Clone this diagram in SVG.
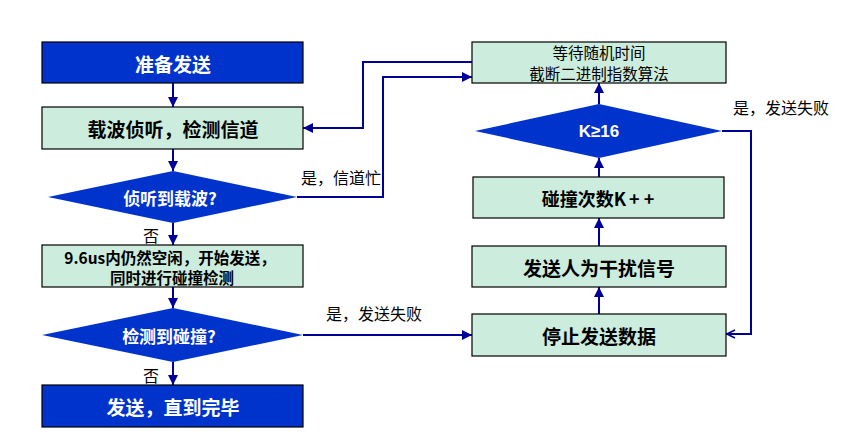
<svg xmlns="http://www.w3.org/2000/svg" width="855" height="444" viewBox="0 0 855 444">
<style>
text{font-family:"Noto Sans CJK SC","Noto Sans",sans-serif;dominant-baseline:central;text-anchor:middle}
.dark{fill:#0033CC;stroke:#000;stroke-width:1.2}
.light{fill:#CCECDD;stroke:#000;stroke-width:1.2}
.dia{fill:#0033CC;stroke:none}
.wt{fill:#fff;font-weight:bold}
.bt{fill:#000;font-weight:bold}
.nt{fill:#000}
.lbl{fill:#000;font-size:16px;text-anchor:start}
.ln{fill:none;stroke:#000099;stroke-width:2}
</style>
<defs>
<marker id="ah" viewBox="0 0 10 10" refX="10" refY="5" markerWidth="5" markerHeight="5" orient="auto" markerUnits="strokeWidth">
<path d="M0,0 L10,5 L0,10 z" fill="#000099"/>
</marker>
<marker id="oh" viewBox="0 0 10 10" refX="10" refY="5" markerWidth="5" markerHeight="5" orient="auto" markerUnits="strokeWidth">
<path d="M1,1 L9,5 L1,9" fill="none" stroke="#000099" stroke-width="1.6"/>
</marker>
</defs>
<rect width="855" height="444" fill="#fff"/>
<g id="connectors">
<line class="ln" x1="173" y1="83" x2="173" y2="107" marker-end="url(#ah)"/>
<line class="ln" x1="173" y1="149" x2="173" y2="171" marker-end="url(#ah)"/>
<line class="ln" x1="173" y1="223" x2="173" y2="245" marker-end="url(#ah)"/>
<line class="ln" x1="173" y1="287" x2="173" y2="308" marker-end="url(#ah)"/>
<line class="ln" x1="173" y1="362" x2="173" y2="385" marker-end="url(#ah)"/>
<line class="ln" x1="303" y1="335" x2="472" y2="335" marker-end="url(#ah)"/>
<polyline class="ln" points="297,197 383,197 383,77 472,77" marker-end="url(#ah)"/>
<polyline class="ln" points="472,62 363,62 363,128 303,128" marker-end="url(#ah)"/>
<line class="ln" x1="599" y1="104" x2="599" y2="83" marker-end="url(#ah)"/>
<line class="ln" x1="599" y1="177" x2="599" y2="158" marker-end="url(#ah)"/>
<line class="ln" x1="599" y1="246" x2="599" y2="218" marker-end="url(#ah)"/>
<line class="ln" x1="599" y1="314" x2="599" y2="287" marker-end="url(#ah)"/>
<polyline class="ln" points="722,131 751,131 751,334 726,334" marker-end="url(#oh)"/>
<text class="lbl" x="301" y="177">是，信道忙</text>
<text class="lbl" x="326" y="313">是，发送失败</text>
<text class="lbl" x="733" y="107">是，发送失败</text>
<text class="lbl" x="143" y="235">否</text>
<text class="lbl" x="143" y="375">否</text>
</g>
<g id="prepare">
<rect class="dark" x="42" y="42" width="261" height="41"/>
<text class="wt" x="173" y="63" font-size="19">准备发送</text>
</g>
<g id="listen">
<rect class="light" x="42" y="107" width="261" height="42"/>
<text class="bt" x="173" y="128" font-size="19">载波侦听，检测信道</text>
</g>
<g id="carrier">
<polygon class="dia" points="173,171 297,197 173,223 48,197"/>
<text class="wt" x="170" y="197" font-size="17">侦听到载波?</text>
</g>
<g id="idle">
<rect class="light" x="42" y="245" width="261" height="42"/>
<text class="bt" x="170" y="257" font-size="15.5">9.6us内仍然空闲，开始发送，</text>
<text class="bt" x="172" y="277" font-size="15.5">同时进行碰撞检测</text>
</g>
<g id="collide">
<polygon class="dia" points="173,308 303,335 173,362 42,335"/>
<text class="wt" x="169" y="335" font-size="17">检测到碰撞?</text>
</g>
<g id="finish">
<rect class="dark" x="42" y="385" width="261" height="42"/>
<text class="wt" x="173" y="406" font-size="19">发送，直到完毕</text>
</g>
<g id="wait">
<rect class="light" x="472" y="42" width="254" height="41"/>
<text class="nt" x="599" y="51.5" font-size="15.5">等待随机时间</text>
<text class="nt" x="599" y="73" font-size="15.5">截断二进制指数算法</text>
</g>
<g id="kcheck">
<polygon class="dia" points="599,104 722,131 599,158 475,131"/>
<text class="wt" x="599" y="131" font-size="17" style="font-family:'Liberation Sans',Arial,sans-serif">K≥16</text>
</g>
<g id="count">
<rect class="light" x="473" y="177" width="251" height="41"/>
<text class="bt" x="598" y="198" font-size="18">碰撞次数K<tspan dx="3">+</tspan><tspan dx="4">+</tspan></text>
</g>
<g id="jam">
<rect class="light" x="472" y="246" width="254" height="41"/>
<text class="bt" x="599" y="267" font-size="19">发送人为干扰信号</text>
</g>
<g id="stop">
<rect class="light" x="472" y="314" width="254" height="42"/>
<text class="bt" x="599" y="335" font-size="19">停止发送数据</text>
</g>
</svg>
